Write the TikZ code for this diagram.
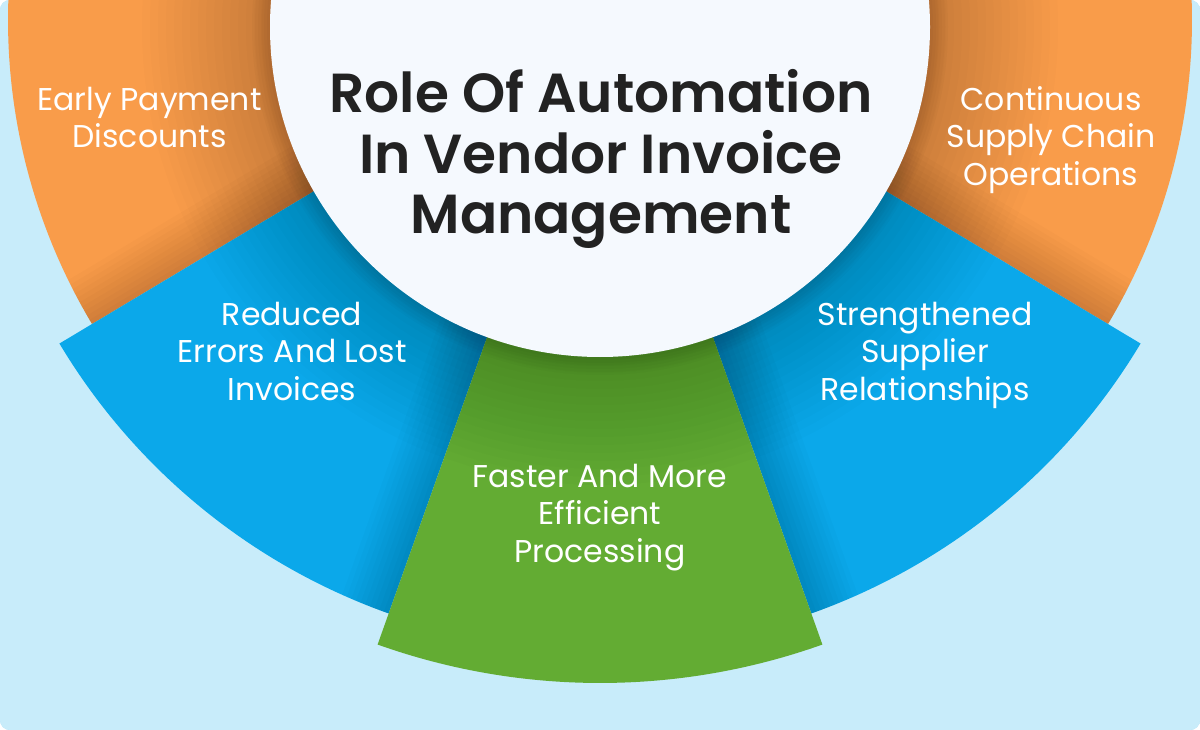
\documentclass[tikz,border=0pt]{standalone}
\usepackage{fontspec}
\setmainfont{Poppins}
\newfontfamily\titlefont{Poppins SemiBold}
\usetikzlibrary{calc}
\definecolor{orangeseg}{HTML}{F99C4A}
\definecolor{blueseg}{HTML}{0BA8EA}
\definecolor{greenseg}{HTML}{63AC33}
\definecolor{hubfill}{HTML}{F5F9FE}
\definecolor{titleink}{HTML}{222222}
\definecolor{bglight}{HTML}{C8ECFA}
\definecolor{bgmid}{HTML}{BBE6F8}
\definecolor{bgdark}{HTML}{A8DEF5}
\pgfdeclareradialshading{bgshade}{\pgfpoint{0bp}{0bp}}{color(0bp)=(bglight); color(32bp)=(bglight); color(38bp)=(bgmid); color(47bp)=(bgdark); color(50bp)=(bgdark)}
\tikzset{
  label/.style={text=white, align=center, anchor=base, inner sep=0pt,
    font=\fontsize{31.5}{37.5}\selectfont},
  titlelabel/.style={text=titleink, align=center, anchor=base, inner sep=0pt,
    font=\titlefont\fontsize{55}{60.7}\selectfont}
}
\newcommand\wedgepath[3]{(600,-20) -- ++(#1:#3) arc[start angle=#1, end angle=#2, radius=#3] -- cycle}
\begin{document}
\begin{tikzpicture}[x=1pt,y=1pt]
\useasboundingbox (0,0) rectangle (1200,-730);
\fill[white] (0,0) rectangle (1200,-730);
\begin{scope}
  \clip[rounded corners=10pt] (0,0) rectangle (1200,-730);
  \fill[bgdark] (0,0) rectangle (1200,-730);
  \shade[shading=bgshade] (600,-20) circle (1000);
  % orange segments
  \fill[orangeseg] \wedgepath{150}{210.9}{592};
  \fill[orangeseg] \wedgepath{329.1}{390}{592};
  % shadow of blue onto orange
  \begin{scope}
    \clip \wedgepath{150}{210.9}{592} \wedgepath{329.1}{390}{592};
    \foreach \k in {1,...,10}{
      \draw[black, opacity=0.014, line width=10*\k pt] \wedgepath{210.9}{250.4}{630};
      \draw[black, opacity=0.014, line width=10*\k pt] \wedgepath{289.6}{329.1}{630};
    }
  \end{scope}
  % blue segments
  \fill[blueseg] \wedgepath{210.9}{250.4}{630};
  \fill[blueseg] \wedgepath{289.6}{329.1}{630};
  % shadow of green onto blue
  \begin{scope}
    \clip \wedgepath{210.9}{250.4}{630} \wedgepath{289.6}{329.1}{630};
    \foreach \k in {1,...,10}{
      \draw[black, opacity=0.014, line width=10*\k pt] \wedgepath{250.4}{289.6}{663};
    }
  \end{scope}
  % green segment
  \fill[greenseg] \wedgepath{250.4}{289.6}{663};
  % shadow of the hub
  \foreach \k in {1,...,16}{
    \fill[black, opacity=0.011] (600,-27) circle (330+8*\k);
  }
  \foreach \k in {1,...,6}{
    \fill[black, opacity=0.02] (600,-27) circle (330+3*\k);
  }
  % hub
  \fill[hubfill] (600,-27) circle (330);
\end{scope}
% texts (anchor = baseline of the last line)
\node[titlelabel] (title) at (601,-234) {Role Of Automation\\In Vendor Invoice\\Management};
\node[label] (early) at (149.5,-147.8) {Early Payment\\Discounts};
\node[label] (cont) at (1051,-185.3) {Continuous\\Supply Chain\\Operations};
\node[label] (reduced) at (292,-400) {Reduced\\Errors And Lost\\Invoices};
\node[label] (strength) at (925,-400) {Strengthened\\Supplier\\Relationships};
\node[label] (faster) at (600,-562) {Faster And More\\Efficient\\Processing};
\end{tikzpicture}
\end{document}
